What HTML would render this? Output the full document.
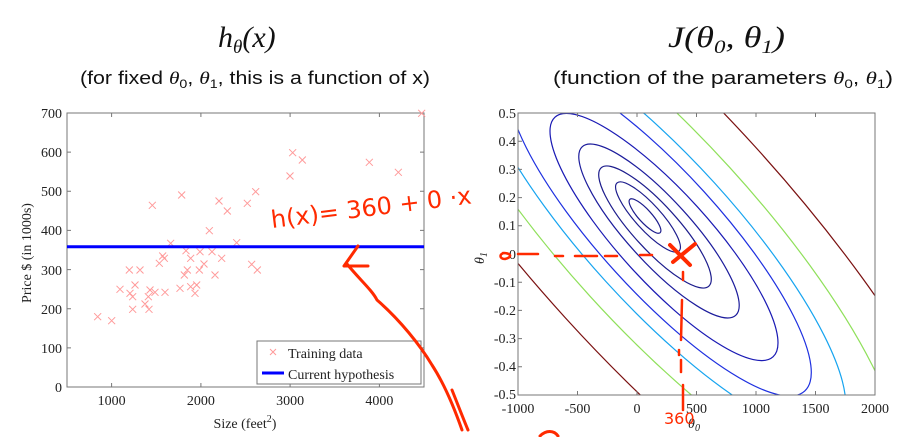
<!DOCTYPE html>
<html style="overflow:hidden"><head><meta charset="utf-8"><style>
html,body{margin:0;background:#fff;width:911px;height:437px;overflow:hidden}
svg{display:block}
.t{font-family:"Liberation Serif",serif;font-size:14px;fill:#222}
.s{font-family:"Liberation Sans",sans-serif;font-size:18px;fill:#111}
.m{font-family:"Liberation Serif",serif;font-style:italic;font-size:30px;fill:#111}
</style></head><body>
<svg width="911" height="437" viewBox="0 0 911 437" xmlns="http://www.w3.org/2000/svg">
<defs><clipPath id="c"><rect x="518" y="113" width="357" height="282"/></clipPath><clipPath id="all"><rect x="0" y="0" width="911" height="437"/></clipPath></defs>
<g clip-path="url(#all)">
<text class="m" x="218" y="47">h<tspan font-size="19" dy="6">θ</tspan><tspan dy="-6">(x)</tspan></text>
<text class="s" x="80" y="84" textLength="350" lengthAdjust="spacingAndGlyphs">(for fixed <tspan font-family="Liberation Serif" font-style="italic">θ</tspan><tspan font-size="12" dy="4">0</tspan><tspan dy="-4">, </tspan><tspan font-family="Liberation Serif" font-style="italic">θ</tspan><tspan font-size="12" dy="4">1</tspan><tspan dy="-4">, this is a function of x)</tspan></text>
<text class="m" x="668" y="47" textLength="117" lengthAdjust="spacingAndGlyphs">J(θ<tspan font-size="19" dy="6">0</tspan><tspan dy="-6">, θ</tspan><tspan font-size="19" dy="6">1</tspan><tspan dy="-6">)</tspan></text>
<text class="s" x="553" y="84" textLength="340" lengthAdjust="spacingAndGlyphs">(function of the parameters <tspan font-family="Liberation Serif" font-style="italic">θ</tspan><tspan font-size="12" dy="4">0</tspan><tspan dy="-4">, </tspan><tspan font-family="Liberation Serif" font-style="italic">θ</tspan><tspan font-size="12" dy="4">1</tspan><tspan dy="-4">)</tspan></text>

<rect x="67" y="113" width="357" height="274" fill="none" stroke="#777" stroke-width="1"/>
<g stroke="#777" stroke-width="1">
<path d="M111.6 387v-4M200.9 387v-4M290.1 387v-4M379.4 387v-4M111.6 113v4M200.9 113v4M290.1 113v4M379.4 113v4"/>
<path d="M67 347.9h4M67 308.7h4M67 269.6h4M67 230.4h4M67 191.3h4M67 152.1h4M424 347.9h-4M424 308.7h-4M424 269.6h-4M424 230.4h-4M424 191.3h-4M424 152.1h-4"/>
</g>
<g class="t" text-anchor="end">
<text x="62" y="392">0</text><text x="62" y="353">100</text><text x="62" y="314">200</text><text x="62" y="275">300</text><text x="62" y="235">400</text><text x="62" y="196">500</text><text x="62" y="157">600</text><text x="62" y="118">700</text>
</g>
<g class="t" text-anchor="middle">
<text x="111.6" y="405">1000</text><text x="200.9" y="405">2000</text><text x="290.1" y="405">3000</text><text x="379.4" y="405">4000</text>
<text x="245" y="428">Size (feet<tspan font-size="10" dy="-6">2</tspan><tspan dy="6">)</tspan></text>
<text transform="translate(31,253) rotate(-90)">Price $ (in 1000s)</text>
</g>
<g id="pts" stroke="#ff9a9a" stroke-width="1" fill="none"></g>
<line x1="67" y1="246.7" x2="424" y2="246.7" stroke="#0000ff" stroke-width="3"/>
<rect x="257" y="341" width="164" height="43" fill="#fff" stroke="#777"/>
<path d="M270 349l6 6M276 349l-6 6" stroke="#ff9a9a"/>
<line x1="262" y1="373" x2="284" y2="373" stroke="#0000ff" stroke-width="3"/>
<text class="t" x="288" y="358">Training data</text>
<text class="t" x="288" y="379">Current hypothesis</text>

<g clip-path="url(#c)" fill="none" stroke-width="1.2" id="ell"></g>
<rect x="518" y="113" width="357" height="282" fill="none" stroke="#777"/>
<g stroke="#777">
<path d="M577.5 395v-4M637 395v-4M696.5 395v-4M756 395v-4M815.5 395v-4M577.5 113v4M637 113v4M696.5 113v4M756 113v4M815.5 113v4"/>
<path d="M518 141.2h4M518 169.4h4M518 197.6h4M518 225.8h4M518 254h4M518 282.2h4M518 310.4h4M518 338.6h4M518 366.8h4"/>
</g>
<g class="t" text-anchor="end">
<text x="516" y="118">0.5</text><text x="516" y="146">0.4</text><text x="516" y="174">0.3</text><text x="516" y="202">0.2</text><text x="516" y="230">0.1</text><text x="516" y="259">0</text><text x="516" y="287">-0.1</text><text x="516" y="315">-0.2</text><text x="516" y="343">-0.3</text><text x="516" y="371">-0.4</text><text x="516" y="399">-0.5</text>
</g>
<g class="t" text-anchor="middle">
<text x="518" y="413">-1000</text><text x="577.5" y="413">-500</text><text x="637" y="413">0</text><text x="696.5" y="413">500</text><text x="756" y="413">1000</text><text x="815.5" y="413">1500</text><text x="875" y="413">2000</text>
<text x="694" y="428" font-style="italic">θ<tspan font-size="10" dy="3">0</tspan></text>
<text transform="translate(484,258) rotate(-90)" font-style="italic">θ<tspan font-size="10" dy="3">1</tspan></text>
</g>

<g stroke="#ff2a00" fill="none" stroke-linecap="round" stroke-width="3">
<text x="272" y="228" transform="rotate(-7 272 228)" font-family="DejaVu Sans,sans-serif" font-size="24" fill="#ff2a00" stroke="none">h(x)= 360 + 0 ·x</text>
<path d="M344 266l14-20M344 266l24 0" />
<path d="M347 264C360 280 372 290 377 300C400 320 420 345 432 365C445 385 455 410 462 430"/>
<path d="M452 390C458 405 463 418 468 430"/>
<path d="M540 436c6-6 14-6 18 0"/>
<path d="M670 245l20 20M695 244l-22 18" stroke-width="4"/>
<path d="M503 253c8 0 10 4 2 6c-6 0-6-6 0-6M518 254h20M555 256h8M575 256h22M605 256h12M640 255h12" stroke-width="2.5"/>
<path d="M683 272v8M682 300l-1 40M679 350v5M681 360v12M683 385v25" stroke-width="2.5"/>
</g>
<text x="664" y="424" font-family="DejaVu Sans,sans-serif" font-size="16" fill="#ff2a00">360</text>
</g>
</svg>
<script>
var P=[[293,650],[335,662],[360,568],[388,510],[390,580],[398,590],[398,628],[405,555],[420,510],[435,612],[447,628],[445,590],[450,570],[457,316],[465,577],[478,490],[493,475],[495,577],[512,430],[540,565],[553,525],[558,452],[562,510],[572,475],[572,560],[585,580],[590,555],[598,510],[600,455],[612,492],[628,392],[636,455],[645,525],[657,303],[665,475],[682,333],[710,428],[742,310],[755,493],[767,275],[772,510],[870,228],[878,158],[907,180],[1108,187],[1195,217],[1265,40],[488,468],[545,285]];
var g=document.getElementById('pts'),d='';
P.forEach(function(p){var x=p[0]/3,y=100+p[1]/3;d+='M'+(x-3.5)+' '+(y-3.5)+'l7 7M'+(x+3.5)+' '+(y-3.5)+'l-7 7';});
g.innerHTML='<path d="'+d+'"/>';
var L=[[22.5,645,216,3.5,'#1c1c8c'],[46,648,217,3.6,'#1c1c8c'],[80,655,227,3.6,'#1c1c8c'],[114,659,231,3.6,'#1c1c9c'],[162,664,237,3.6,'#1a1ab4'],[215,660,232,3.6,'#1e30e0'],[264,660,232,3.6,'#16a4f0'],[342,660,232,3.6,'#8fe05a'],[460,660,232,3.6,'#7a1010']];
var e='';L.forEach(function(l){e+='<ellipse cx="'+l[1]+'" cy="'+l[2]+'" rx="'+l[0]+'" ry="'+(l[0]/l[3])+'" stroke="'+l[4]+'" transform="rotate(47.7 '+l[1]+' '+l[2]+')"/>';});
document.getElementById('ell').innerHTML=e;
</script>
</body></html>
